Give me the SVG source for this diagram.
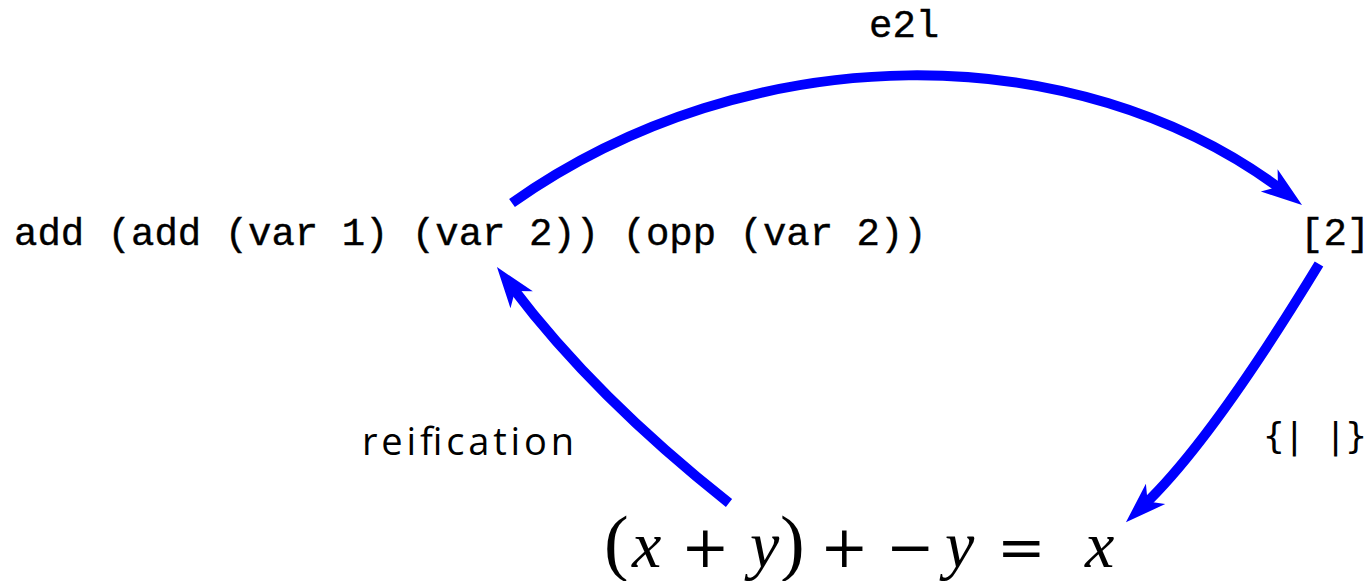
<svg xmlns="http://www.w3.org/2000/svg" width="1371" height="581" viewBox="0 0 1371 581">
  <style>
    .edge { fill: none; stroke: #0000ff; stroke-width: 10; stroke-linecap: butt; }
    .mono { font-family: "Liberation Mono", "Courier New", monospace; font-size: 39px; fill: #000; stroke: #000; stroke-width: 0.4; }
    .mi { font-family: "Liberation Serif", serif; font-style: italic; font-size: 66px; fill: #000; }
    .mp { font-family: "Liberation Serif", serif; font-size: 74px; fill: #000; }
    .mo { font-family: "DejaVu Serif", serif; font-size: 58px; fill: #000; }
  </style>
  <defs>
    <marker id="arrow" markerUnits="userSpaceOnUse" orient="auto" viewBox="-20 -20 50 40" refX="0" refY="0" markerWidth="50" markerHeight="40" overflow="visible">
      <path d="M25,0 L-16,-14 L-5,0 L-16,14 Z" fill="#0000ff"/>
    </marker>
  </defs>

  <g id="connectors">
    <path id="e2l-edge" class="edge" d="M512,203 C750,35 1075,35 1282,190" marker-end="url(#arrow)"/>
    <path id="interp-edge" class="edge" d="M1319,264 Q1212,440 1144,505" marker-end="url(#arrow)"/>
    <path id="reif-edge" class="edge" d="M729,503 Q595,397 512,287" marker-end="url(#arrow)"/>
  </g>

  <g id="node-term">
    <text class="mono" x="14" y="245">add (add (var 1) (var 2)) (opp (var 2))</text>
  </g>
  <g id="node-list">
    <text class="mono" x="1300" y="245">[2]</text>
  </g>
  <g id="node-formula">
    <text y="567">
      <tspan class="mp" x="604">(</tspan><tspan class="mi" x="632">x</tspan><tspan class="mo" x="681">+</tspan><tspan class="mi" x="750">y</tspan><tspan class="mp" x="780">)</tspan><tspan class="mo" x="820">+</tspan><tspan class="mo" x="886">−</tspan><tspan class="mi" x="945">y</tspan><tspan class="mo" x="997">=</tspan><tspan class="mi" x="1085">x</tspan>
    </text>
  </g>

  <g id="labels">
    <text id="label-e2l" class="mono" x="869" y="37">e2l</text>
    <text id="label-interp" x="1263" y="448" font-family="DejaVu Sans Mono, monospace" font-size="36" textLength="104" lengthAdjust="spacing">{| |}</text>
    <text id="label-reif" x="362" y="455" font-family="Open Sans, sans-serif" font-size="38" textLength="212" lengthAdjust="spacing">reification</text>
  </g>
</svg>
